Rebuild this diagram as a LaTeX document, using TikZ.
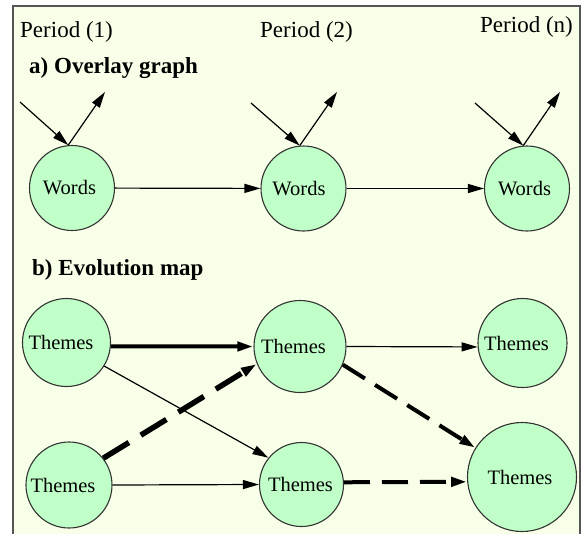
\documentclass[tikz,border=0pt]{standalone}
\usepackage{fontspec}
\setmainfont{Liberation Serif}[BoldFont={Liberation Serif Bold}]
\newfontfamily\timesface{Liberation Serif}[BoldFont={Liberation Serif Bold}]
\usetikzlibrary{arrows.meta}
\definecolor{panelbg}{HTML}{F8FFE8}
\definecolor{nodegreen}{HTML}{C1FFC8}
\definecolor{framegray}{HTML}{555555}
\tikzset{
  gnode/.style={circle, draw=black!80, line width=1.1pt, fill=nodegreen, inner sep=0pt,
    font=\timesface\fontsize{20.5}{24}\selectfont},
  conn/.style={draw=black, line width=1.2pt, -{Triangle[length=16pt,width=9pt]}},
  heavy/.style={conn, line width=4pt},
  heavier/.style={conn, line width=5.5pt},
  dashlong/.style={dash pattern=on 26pt off 12pt},
  dashxl/.style={dash pattern=on 30pt off 14pt},
  periodlabel/.style={anchor=base west, inner sep=0pt, font=\timesface\fontsize{23}{26}\selectfont},
  headlabel/.style={anchor=base west, inner sep=0pt, font=\timesface\bfseries\fontsize{23}{26}\selectfont},
}
\begin{document}
\begin{tikzpicture}[x=1pt,y=-1pt]
\useasboundingbox (0,0) rectangle (583,533);
\fill[white] (0,0) rectangle (583,533);
\fill[panelbg] (13,6) rectangle (580,540);
\draw[framegray, line width=2pt] (13,540) -- (13,6) -- (580,6) -- (580,540);

% labels
\node[periodlabel] (p1) at (20,37) {Period (1)};
\node[periodlabel] (p2) at (260,37) {Period (2)};
\node[periodlabel] (pn) at (480,32) {Period (n)};
\node[headlabel] (ha) at (29,73) {a) Overlay graph};
\node[headlabel] (hb) at (32,275) {b) Evolution map};

% overlay graph
\node[gnode, minimum size=85pt] (w1) at (72,188) {\kern-5pt Words};
\node[gnode, minimum size=85pt] (w2) at (303.5,188.5) {\kern-9pt Words};
\node[gnode, minimum size=85pt] (w3) at (527,188.5) {\kern-5pt Words};

\coordinate (in1) at (20,102);
\coordinate (out1) at (105,92);
\coordinate (in2) at (251,103);
\coordinate (out2) at (337,92);
\coordinate (in3) at (475,103);
\coordinate (out3) at (560,92);

\draw[conn] (in1) -- (w1.95);
\draw[conn] (w1.95) -- (out1);
\draw[conn] (in2) -- (w2.95);
\draw[conn] (w2.95) -- (out2);
\draw[conn] (in3) -- (w3.95);
\draw[conn] (w3.95) -- (out3);

\draw[conn] (w1) -- (w2);
\draw[conn] (w2) -- (w3);

% evolution map
\node[gnode, minimum size=88pt] (t1) at (66.5,342.5) {\kern-11pt Themes};
\node[gnode, minimum size=86pt] (t2) at (69,485) {\kern-12pt Themes};
\node[gnode, minimum size=92pt] (t3) at (300,346.5) {\kern-13pt Themes};
\node[gnode, minimum size=84pt] (t4) at (301.5,484.5) {\kern-2pt Themes};
\node[gnode, minimum size=89pt] (t5) at (522.5,343) {\kern-12pt Themes};
\node[gnode, minimum size=109pt] (t6) at (522,477) {\kern-4pt Themes};

\draw[heavy] (t1.-5) -- (t3.180);
\draw[conn] (t1.-32) -- (t4.141);
\draw[heavier, dashxl] (t2.38.5) -- (t3.202);
\draw[conn] (t2.0) -- (t4.180);
\draw[conn] (t3.0) -- (t5.185);
\draw[heavy, dashlong] (t3.-23) -- (t6.148);
\draw[heavy, dashlong] (t4.3) -- (t6.185);
\end{tikzpicture}
\end{document}
